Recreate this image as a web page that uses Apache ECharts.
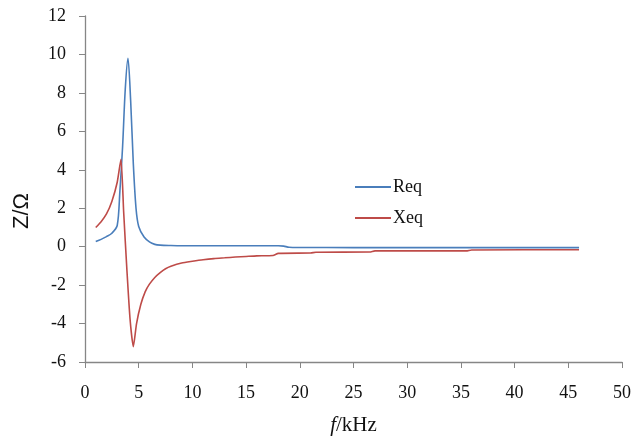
<!DOCTYPE html>
<html>
<head>
<meta charset="utf-8">
<script src="https://cdn.jsdelivr.net/npm/echarts@6/dist/echarts.min.js"></script>
<style>
html,body{margin:0;padding:0;background:#fff;}
#chart{width:633px;height:438px;}
</style>
</head>
<body>
<div id="chart"></div>
<script>
var reqF = [1, 1.5, 2, 2.5, 3, 3.25, 3.5, 3.75, 4, 4.25, 4.5, 4.75, 5, 5.5, 6, 6.5, 7, 8, 9, 10, 12, 14, 16, 18, 18.5, 19, 20, 25, 30, 35, 40, 46];
var reqV = [0.27, 0.38, 0.52, 0.7, 1.1, 2.9, 5.2, 8.2, 9.8, 7.6, 4.3, 2.0, 1.05, 0.5, 0.25, 0.12, 0.08, 0.06, 0.05, 0.05, 0.05, 0.05, 0.05, 0.05, 0.03, -0.03, -0.04, -0.05, -0.05, -0.05, -0.05, -0.05];

var xeqF = [1, 1.5, 2, 2.5, 3, 3.35, 3.6, 3.9, 4.2, 4.5, 4.8, 5.2, 5.6, 6, 6.5, 7, 7.5, 8, 9, 10, 11, 12, 13, 14, 15, 16, 17.5, 18, 21, 21.5, 26.5, 27, 35.5, 36, 46];
var xeqV = [1.0, 1.3, 1.7, 2.35, 3.35, 4.55, 1.8, -1.2, -3.8, -5.2, -4.0, -3.0, -2.35, -1.95, -1.6, -1.35, -1.15, -1.02, -0.85, -0.76, -0.68, -0.62, -0.58, -0.54, -0.51, -0.48, -0.46, -0.35, -0.33, -0.29, -0.28, -0.22, -0.22, -0.17, -0.16];

var seriesNames = ['Req', 'Xeq'];
var xMin = 0, xMax = 50, xStep = 5;
var yMin = -6, yMax = 12, yStep = 2;

function pairs(xs, ys) { return xs.map(function (x, i) { return [x, ys[i]]; }); }

var axisColor = '#868686';
var chart = echarts.init(document.getElementById('chart'));
chart.setOption({
  backgroundColor: '#ffffff',
  animation: false,
  grid: { left: 85, right: 11, top: 16, bottom: 76, containLabel: false, outerBoundsMode: 'none' },
  legend: {
    orient: 'vertical',
    left: 350,
    top: 173,
    itemWidth: 36,
    itemHeight: 2,
    itemGap: 13,
    icon: 'rect',
    textStyle: { fontFamily: 'Liberation Serif', fontSize: 18, color: '#111', padding: [0, 0, 0, -3] },
    data: seriesNames
  },
  xAxis: {
    type: 'value',
    min: xMin, max: xMax, interval: xStep,
    name: '{i|f}{n|/kHz}',
    nameLocation: 'middle',
    nameGap: 53,
    nameTextStyle: {
      rich: {
        i: { fontFamily: 'Liberation Serif', fontStyle: 'italic', fontSize: 21, color: '#111' },
        n: { fontFamily: 'Liberation Serif', fontSize: 21, color: '#111' }
      }
    },
    axisLine: { onZero: false, lineStyle: { color: axisColor, width: 1.3 } },
    axisTick: { show: true, length: 6, lineStyle: { color: axisColor } },
    axisLabel: { margin: 22, fontFamily: 'Liberation Serif', fontSize: 18, color: '#111' },
    splitLine: { show: false }
  },
  yAxis: {
    type: 'value',
    min: yMin, max: yMax, interval: yStep,
    name: 'Z/Ω',
    nameLocation: 'middle',
    nameGap: 52,
    nameRotate: 90,
    nameTextStyle: { fontFamily: 'Liberation Sans', fontSize: 22, color: '#111', padding: [0, 44, 0, 0] },
    axisLine: { show: true, onZero: false, lineStyle: { color: axisColor, width: 1.3 } },
    axisTick: { show: true, length: 6, lineStyle: { color: axisColor } },
    axisLabel: { margin: 19, fontFamily: 'Liberation Serif', fontSize: 18, color: '#111' },
    splitLine: { show: false }
  },
  series: [
    {
      name: seriesNames[0], type: 'line', showSymbol: false, smooth: 0.3,
      data: pairs(reqF, reqV),
      itemStyle: { color: '#4a7ebb' },
      lineStyle: { color: '#4a7ebb', width: 1.6 }
    },
    {
      name: seriesNames[1], type: 'line', showSymbol: false, smooth: 0.2,
      data: pairs(xeqF, xeqV),
      itemStyle: { color: '#be4b48' },
      lineStyle: { color: '#be4b48', width: 1.6 }
    }
  ]
});
</script>
</body>
</html>
